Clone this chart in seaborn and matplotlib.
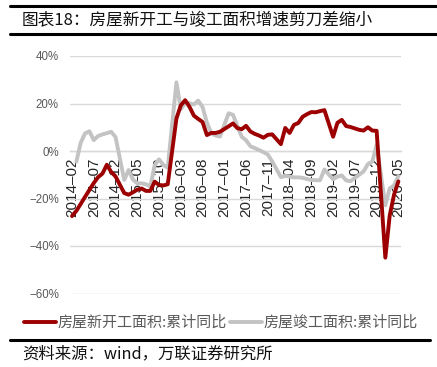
import numpy as np
import pandas as pd
import matplotlib
matplotlib.use("Agg")
import matplotlib.pyplot as plt
import seaborn as sns
from matplotlib.lines import Line2D

# ---------------- data ----------------
months = [f"{y}-{m:02d}" for y in range(2014, 2021) for m in range(1, 13)]
months = months[months.index("2014-02"):months.index("2020-05") + 1]

new_starts = [
    -27.4, -25.2, -22.3, -19.3, -16.4, -13.5, -11.0, -9.5, -5.8, -8.8, -10.7,   # 2014-02..12
    None, -17.7, -18.4, -17.4, -16.3, -15.8, -16.8, -16.8, -12.9, -14.3, -14.5, -14.0,  # 2015
    None, 13.7, 19.2, 21.4, 18.6, 14.9, 13.5, 12.2, 6.7, 7.6, 7.6, 8.1,          # 2016
    None, 10.4, 11.6, 9.6, 9.2, 10.6, 8.2, 7.2, 6.5, 5.6, 6.8, 7.0,              # 2017
    None, 2.9, 9.7, 7.6, 11.0, 11.8, 14.4, 15.5, 16.4, 16.3, 16.8, 17.2,         # 2018
    None, 6.0, 11.9, 13.1, 10.5, 10.1, 9.5, 8.9, 8.6, 10.0, 8.6, 8.5,            # 2019
    None, -44.9, -27.2, -18.4, -12.8,                                             # 2020
]
completions = [
    None, -4.5, 3.5, 7.4, 8.3, 4.6, 6.3, 7.0, 7.5, 8.1, 5.9,                      # 2014-02..12
    None, -12.2, -8.0, -12.0, -13.6, -13.6, -14.0, -15.0, -5.9, -3.5, -5.9, -7.0,  # 2015
    None, 28.9, 17.6, 20.3, 20.1, 19.6, 21.2, 18.5, 12.0, 7.5, 6.5, 6.1,          # 2016
    None, 15.9, 15.2, 10.5, 6.0, 4.5, 2.0, 1.2, 0.4, -0.5, -1.5, -4.4,            # 2017
    None, -11.0, -10.5, -10.8, -11.1, -11.1, -11.3, -11.8, -12.2, -12.3, -12.3, -7.8,  # 2018
    None, -11.9, -10.8, -10.3, -12.4, -12.7, -11.3, -10.0, -8.6, -5.5, -4.5, 2.6,  # 2019
    None, -22.9, -15.8, -14.5, -10.6,                                             # 2020
]
series_names = ["房屋新开工面积:累计同比", "房屋竣工面积:累计同比"]
y_ticks = [40, 20, 0, -20, -40, -60]
title = "图表18：房屋新开工与竣工面积增速剪刀差缩小"
source = "资料来源：wind，万联证券研究所"

# ---------------- style ----------------
sns.set_theme(style="white")
plt.rcParams["font.family"] = ["Liberation Sans", "Noto Sans CJK SC", "DejaVu Sans"]
plt.rcParams["axes.unicode_minus"] = True

RED = "#9c0000"
GRAY = "#c3c3c3"
GRID = "#d9d9d9"
TXT = "#595959"
CJK = ["Noto Sans CJK SC", "DejaVu Sans"]

df = pd.DataFrame({
    "idx": np.arange(len(months)),
    series_names[0]: pd.to_numeric(pd.Series(new_starts), errors="coerce"),
    series_names[1]: pd.to_numeric(pd.Series(completions), errors="coerce"),
})
long = df.melt(id_vars="idx", var_name="series", value_name="value").dropna()

W, H = 437, 367
fig = plt.figure(figsize=(W / 100, H / 100), dpi=100)
ax = fig.add_axes([70 / W, 1 - 293.5 / H, 331 / W, (293.5 - 56) / H])

sns.lineplot(data=long, x="idx", y="value", hue="series",
             hue_order=series_names[::-1],
             palette={series_names[0]: RED, series_names[1]: GRAY},
             linewidth=2.8, legend=False, ax=ax, zorder=3)

ax.set_xlim(-0.46, 75.6)
ax.set_ylim(-60, 40)
ax.set_axisbelow(True)
ax.yaxis.grid(True, color=GRID, linewidth=1.0)
ax.xaxis.grid(False)
ax.tick_params(axis="y", length=0, pad=8)
ax.tick_params(axis="x", direction="out", length=3, width=0.8, color=GRID, pad=1.5,
               labelrotation=90)
ax.set_yticks(y_ticks)
ax.set_yticklabels([f"{v}%".replace("-", "−") for v in y_ticks], color=TXT, fontsize=8.3)

tick_pos = list(range(0, len(months), 5))
ax.set_xticks(tick_pos)
ax.set_xticklabels([months[i].replace("-", "–") for i in tick_pos],
                   rotation=90, color=TXT, fontsize=8.3, va="top", ha="center")
ax.set_xlabel("")
ax.set_ylabel("")
for s in ["top", "right", "left"]:
    ax.spines[s].set_visible(False)
ax.spines["bottom"].set_position(("data", 0))
ax.spines["bottom"].set_color(GRID)
ax.spines["bottom"].set_linewidth(1.0)

# legend
handles = [Line2D([], [], color=RED, lw=2.8), Line2D([], [], color=GRAY, lw=2.8)]
leg = fig.legend(handles, series_names, loc="center left",
                 bbox_to_anchor=(24 / W, 1 - 322.5 / H), ncol=2, frameon=False,
                 handlelength=2.1, handletextpad=0.15, columnspacing=0.2,
                 borderpad=0, borderaxespad=0,
                 prop={"family": CJK, "size": 10.8, "weight": "light"})
for t in leg.get_texts():
    t.set_color(TXT)

# title, rules and source
fig.text(22 / W, 1 - 21 / H, title, fontsize=12, color="#111111",
         family=CJK, weight="light", ha="left", va="center")
for yy in [5.5, 34, 339.5]:
    fig.add_artist(Line2D([10 / W, 1.0 if yy < 100 else 430 / W], [1 - yy / H, 1 - yy / H],
                          color="black", lw=2.2, transform=fig.transFigure))
fig.text(22 / W, 1 - 354 / H, source, fontsize=11.8, color="#111111",
         family=CJK, weight="light", style="italic", ha="left", va="center")

fig.savefig("out.png", dpi=100)
